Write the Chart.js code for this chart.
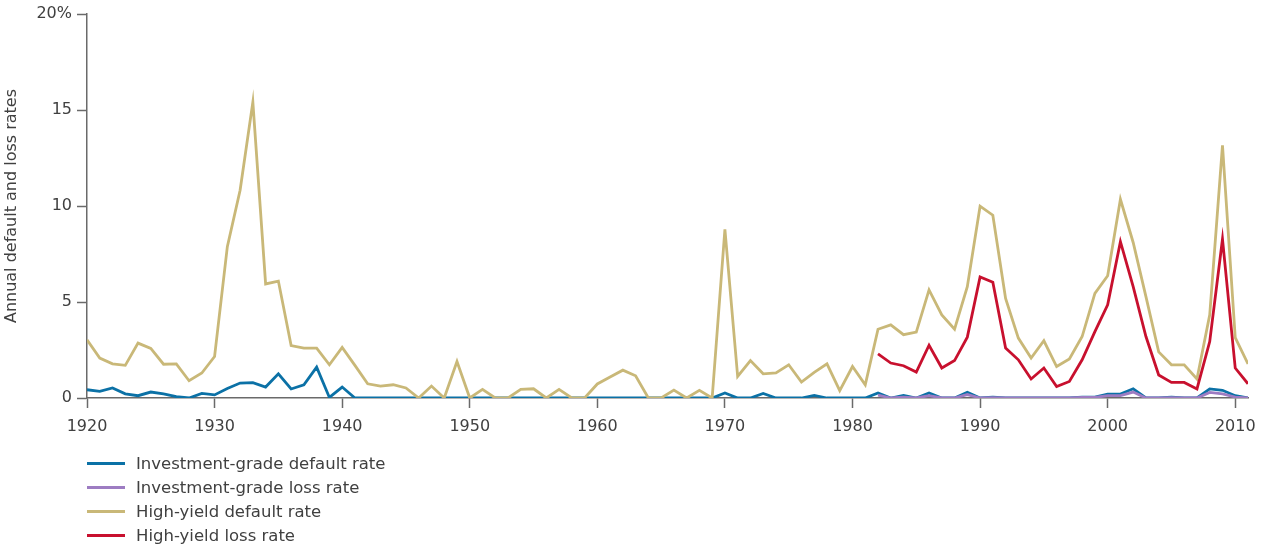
<!DOCTYPE html>
<html>
<head>
<meta charset="utf-8">
<script src="https://cdn.jsdelivr.net/npm/chart.js@4.4.1/dist/chart.umd.min.js"></script>
<style>
  html, body { margin: 0; padding: 0; background: #ffffff; }
  #wrap { position: relative; width: 1261px; height: 546px; }
  #chart { position: absolute; left: 0; top: 0; }
  #legend { position: absolute; left: 87px; top: 451px; font-family: "DejaVu Sans", sans-serif; font-size: 16.5px; color: #404040; }
  .item { height: 24px; display: flex; align-items: center; }
  .swatch { width: 38px; height: 3px; margin-right: 11px; }
</style>
</head>
<body>
<div id="wrap">
  <canvas id="chart" width="1261" height="546"></canvas>
  <div id="legend"></div>
</div>
<script>
const years = [];
for (let y = 1920; y <= 2011; y++) years.push(y);

const seriesNames = [
  "Investment-grade default rate",
  "Investment-grade loss rate",
  "High-yield default rate",
  "High-yield loss rate"
];
const seriesColors = ["#0b71a6", "#9d7cc2", "#c9b878", "#c8102e"];

// Investment-grade default rate, 1920-2011
const igDefault = [
  0.43, 0.35, 0.52, 0.22, 0.12, 0.31, 0.21, 0.07, 0.00, 0.24,
  0.16, 0.50, 0.78, 0.80, 0.57, 1.26, 0.47, 0.69, 1.61, 0.03,
  0.57, 0, 0, 0, 0, 0, 0, 0, 0, 0,
  0, 0, 0, 0, 0, 0, 0, 0, 0, 0,
  0, 0, 0, 0, 0, 0, 0, 0, 0, 0,
  0.26, 0, 0, 0.24, 0, 0, 0, 0.14, 0, 0,
  0, 0, 0.26, 0, 0.14, 0, 0.26, 0, 0, 0.30,
  0, 0.05, 0, 0, 0, 0, 0, 0, 0.05, 0.05,
  0.20, 0.20, 0.48, 0, 0, 0.05, 0, 0, 0.47, 0.40,
  0.12, 0
];

// Investment-grade loss rate, 1982-2011
const igLossFrom1982 = [
  0.15, 0, 0.05, 0, 0.12, 0, 0, 0.18, 0, 0.02,
  0, 0, 0, 0, 0, 0, 0.03, 0.03, 0.12, 0.12,
  0.31, 0, 0, 0.02, 0, 0, 0.29, 0.22, 0.05, 0
];

// High-yield default rate, 1920-2011
const hyDefault = [
  3.03, 2.08, 1.78, 1.70, 2.86, 2.58, 1.76, 1.78, 0.90, 1.30,
  2.16, 7.88, 10.82, 15.41, 5.94, 6.09, 2.73, 2.60, 2.60, 1.73,
  2.63, 1.70, 0.74, 0.62, 0.69, 0.52, 0, 0.62, 0, 1.90,
  0, 0.45, 0, 0, 0.45, 0.48, 0, 0.45, 0, 0,
  0.73, 1.09, 1.45, 1.16, 0, 0, 0.41, 0, 0.40, 0,
  8.78, 1.12, 1.95, 1.26, 1.31, 1.73, 0.83, 1.33, 1.78, 0.38,
  1.64, 0.69, 3.58, 3.81, 3.30, 3.43, 5.63, 4.33, 3.58, 5.80,
  9.99, 9.52, 5.19, 3.12, 2.08, 2.98, 1.64, 2.03, 3.20, 5.45,
  6.37, 10.35, 8.10, 5.28, 2.40, 1.73, 1.73, 0.99, 4.33, 13.16,
  3.15, 1.77
];

// High-yield loss rate, 1982-2011
const hyLossFrom1982 = [
  2.30, 1.82, 1.68, 1.35, 2.75, 1.56, 1.95, 3.17, 6.30, 6.03,
  2.60, 1.99, 0.99, 1.56, 0.60, 0.86, 1.99, 3.46, 4.85, 8.14,
  5.80, 3.20, 1.20, 0.81, 0.81, 0.47, 2.94, 8.27, 1.56, 0.74
];

const yTicks = [0, 5, 10, 15, 20];
const xTicks = [1920, 1930, 1940, 1950, 1960, 1970, 1980, 1990, 2000, 2010];

function toPoints(startYear, vals) {
  return vals.map((v, i) => ({ x: startYear + i, y: v }));
}

const seriesData = [
  toPoints(1920, igDefault),
  toPoints(1982, igLossFrom1982),
  toPoints(1920, hyDefault),
  toPoints(1982, hyLossFrom1982)
];
const drawOrder = [4, 3, 2, 1];

const FONT = "'DejaVu Sans', sans-serif";
const TEXT = "#404040";
const AXIS = "#6a6a6a";

new Chart(document.getElementById('chart'), {
  type: 'line',
  data: {
    datasets: seriesNames.map((name, i) => ({
      label: name,
      data: seriesData[i],
      borderColor: seriesColors[i],
      backgroundColor: seriesColors[i],
      borderWidth: 2.8,
      pointRadius: 0,
      tension: 0,
      fill: false,
      order: drawOrder[i]
    }))
  },
  options: {
    responsive: false,
    animation: false,
    layout: { padding: { left: 0, right: 13, top: 14, bottom: 0 } },
    plugins: { legend: { display: false }, tooltip: { enabled: false } },
    scales: {
      x: {
        type: 'linear',
        min: 1920,
        max: 2011,
        afterFit: s => { s.height = 148; s.paddingLeft = 0; s.paddingRight = 0; },
        afterBuildTicks: s => { s.ticks = xTicks.map(v => ({ value: v })); },
        ticks: {
          includeBounds: false,
          stepSize: 10,
          padding: 9,
          autoSkip: false,
          maxRotation: 0,
          color: TEXT,
          font: { family: FONT, size: 16 },
          callback: v => String(v)
        },
        grid: { display: true, drawOnChartArea: false, drawTicks: true, tickLength: 10, tickColor: AXIS, tickWidth: 1.5 },
        border: { display: true, color: AXIS, width: 1.5 }
      },
      y: {
        min: 0,
        max: 20,
        afterFit: s => { s.width = 87; s.paddingTop = 0; s.paddingBottom = 0; },
        afterBuildTicks: s => { s.ticks = yTicks.map(v => ({ value: v })); },
        ticks: {
          padding: 5,
          color: TEXT,
          font: { family: FONT, size: 16 },
          callback: v => (v === 20 ? '20%' : String(v))
        },
        title: {
          display: true,
          text: 'Annual default and loss rates',
          color: TEXT,
          font: { family: FONT, size: 16 },
          padding: { top: 2, bottom: 0 }
        },
        grid: { display: true, drawOnChartArea: false, drawTicks: true, tickLength: 10, tickColor: AXIS, tickWidth: 1.5 },
        border: { display: true, color: AXIS, width: 1.5 }
      }
    }
  }
});

const legend = document.getElementById('legend');
seriesNames.forEach((name, i) => {
  const row = document.createElement('div');
  row.className = 'item';
  const sw = document.createElement('span');
  sw.className = 'swatch';
  sw.style.background = seriesColors[i];
  const tx = document.createElement('span');
  tx.textContent = name;
  row.appendChild(sw);
  row.appendChild(tx);
  legend.appendChild(row);
});
</script>
</body>
</html>
